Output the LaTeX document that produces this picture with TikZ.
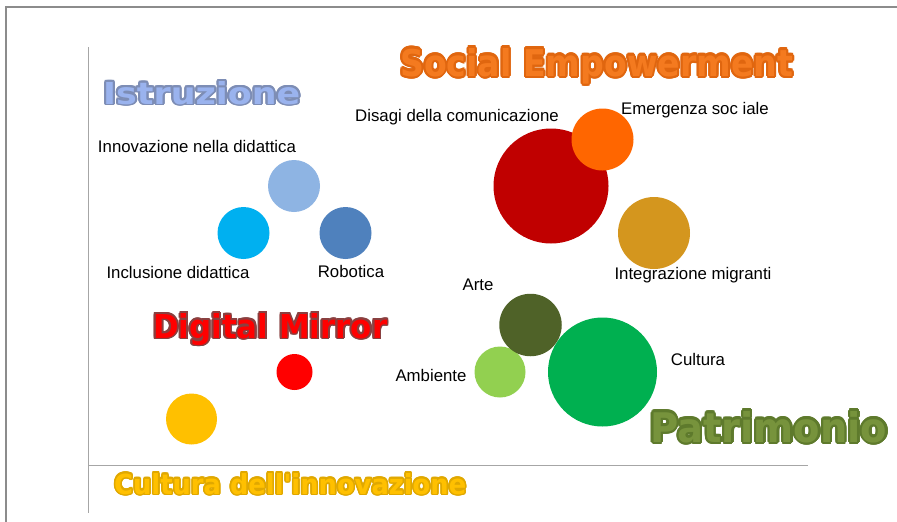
\documentclass[tikz,border=0pt]{standalone}
\usepackage{fontspec}
\setmainfont{Liberation Sans}
\newfontfamily\titlefont{DejaVu Sans}
\usepackage{contour}
\contourlength{0.6pt}
\definecolor{framegray}{HTML}{8C8C8C}
\definecolor{axisgray}{HTML}{A6A6A6}
\definecolor{cInnov}{HTML}{8EB4E3}
\definecolor{cIncl}{HTML}{00B0F0}
\definecolor{cRobo}{HTML}{4F81BD}
\definecolor{cDisagi}{HTML}{C00000}
\definecolor{cEmerg}{HTML}{FF6600}
\definecolor{cInteg}{HTML}{D4961E}
\definecolor{cArte}{HTML}{4F6228}
\definecolor{cAmb}{HTML}{92D050}
\definecolor{cCult}{HTML}{00B050}
\definecolor{cMirror}{HTML}{FF0000}
\definecolor{cYellow}{HTML}{FFC000}
\definecolor{tIstr}{HTML}{9AB3EE}
\definecolor{tIstrO}{HTML}{7D8DB5}
\definecolor{tSoc}{HTML}{F47A1F}
\definecolor{tSocO}{HTML}{E0660F}
\definecolor{tDig}{HTML}{FF0000}
\definecolor{tDigO}{HTML}{8A4040}
\definecolor{tPat}{HTML}{77933C}
\definecolor{tPatO}{HTML}{5E7A2C}
\definecolor{tCul}{HTML}{FFC000}
\definecolor{tCulO}{HTML}{E0A800}
\newcommand{\mytitle}[5]{\resizebox{#1pt}{#2pt}{\titlefont\bfseries\color{#3}\contour{#4}{#5}}}
\tikzset{
  bubble/.style={circle, fill=#1, draw=none, inner sep=0pt},
  lbl/.style={font=\fontsize{16.8}{19}\selectfont, text=black, inner sep=0pt},
  ttl/.style={anchor=base west, inner sep=0pt},
}
\begin{document}
\begin{tikzpicture}[x=1pt,y=-1pt]
\useasboundingbox (0,0) rectangle (897,522);
\fill[white] (0,0) rectangle (897,522);
% frame
\coordinate (ftr) at (897,7);
\coordinate (ftl) at (6,7);
\coordinate (fbl) at (6,522);
\draw[framegray, line width=1.6pt] (ftr) -- (ftl) -- (fbl);
% axes
\coordinate (ytop) at (88.5,47);
\coordinate (ybot) at (88.5,513);
\coordinate (xl) at (88.5,465.5);
\coordinate (xr) at (808,465.5);
\draw[axisgray, line width=1pt] (ytop) -- (ybot);
\draw[axisgray, line width=1pt] (xl) -- (xr);
% bubbles
\node[bubble=cInnov, minimum size=52pt] (innov) at (294,186) {};
\node[bubble=cIncl, minimum size=52pt] (incl) at (243.5,233) {};
\node[bubble=cRobo, minimum size=52pt] (robo) at (345.5,233) {};
\node[bubble=cDisagi, minimum size=115pt] (disagi) at (551,186) {};
\node[bubble=cEmerg, minimum size=62pt] (emerg) at (602.5,139.5) {};
\node[bubble=cInteg, minimum size=72pt] (integ) at (654,233) {};
\node[bubble=cAmb, minimum size=51pt] (amb) at (500,372) {};
\node[bubble=cArte, minimum size=62.5pt] (arte) at (530.5,325) {};
\node[bubble=cCult, minimum size=109pt] (cult) at (602.5,372) {};
\node[bubble=cMirror, minimum size=36pt] (mirror) at (294.5,372) {};
\node[bubble=cYellow, minimum size=51pt] (innovcult) at (191.5,419) {};
% labels
\node[lbl] (lInnov) at (197,146) {Innovazione nella didattica};
\node[lbl] (lIncl) at (178,272) {Inclusione didattica};
\node[lbl] (lRobo) at (351,271) {Robotica};
\node[lbl] (lDisagi) at (457,117) {Disagi della comunicazione};
\node[lbl] (lEmerg) at (695,110) {Emergenza soc iale};
\node[lbl] (lInteg) at (693,275) {Integrazione migranti};
\node[lbl] (lArte) at (478,285) {Arte};
\node[lbl] (lAmb) at (431,375) {Ambiente};
\node[lbl] (lCult) at (698,359) {Cultura};
% titles
\node[ttl] (tIstruzione) at (103,104) {\mytitle{197}{23}{tIstr}{tIstrO}{Istruzione}};
\node[ttl] (tSocial) at (400,76) {\mytitle{393}{28}{tSoc}{tSocO}{Social Empowerment}};
\node[ttl] (tDigital) at (153,338) {\mytitle{234}{25}{tDig}{tDigO}{Digital Mirror}};
\node[ttl] (tPatrimonio) at (650,442) {\mytitle{237}{31}{tPat}{tPatO}{Patrimonio}};
\node[ttl] (tCultura) at (114,494) {\mytitle{352}{21}{tCul}{tCulO}{Cultura dell'innovazione}};
\end{tikzpicture}
\end{document}
